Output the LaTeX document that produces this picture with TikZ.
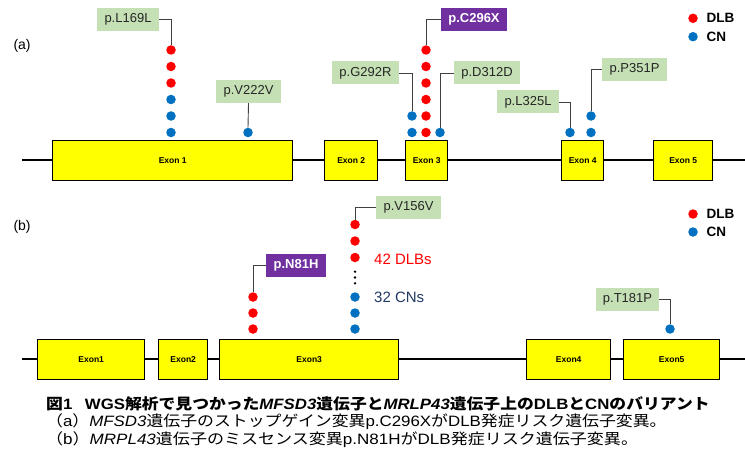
\documentclass[tikz,border=0pt]{standalone}
\usepackage{graphicx}
\usepackage{fontspec}
\setmainfont{Liberation Sans}
\newfontfamily\jp{Noto Sans CJK JP}
\definecolor{dlbred}{RGB}{255,0,0}
\definecolor{cnblue}{RGB}{0,112,192}
\definecolor{labgreen}{RGB}{197,224,180}
\definecolor{purp}{RGB}{112,48,160}
\definecolor{exonyellow}{RGB}{255,255,0}
\definecolor{cndark}{RGB}{32,56,100}
\begin{document}
\begin{tikzpicture}[x=1pt,y=-1pt,
  exon/.style={draw=black, line width=1.4pt, fill=exonyellow, anchor=north west, minimum height=40pt, inner sep=0pt, font=\bfseries\fontsize{8.5}{10}\selectfont},
  backbone/.style={line width=2.2pt, black},
  dotr/.style={circle, fill=dlbred, inner sep=0pt, minimum size=9.5pt},
  dotb/.style={circle, fill=cnblue, inner sep=0pt, minimum size=9.5pt},
  edot/.style={circle, fill=black, inner sep=0pt, minimum size=2.6pt},
  lab/.style={fill=labgreen, inner sep=0pt, minimum height=23pt, font=\fontsize{13}{15}\selectfont, text=black!85},
  plab/.style={fill=purp, text=white, inner sep=0pt, minimum height=23pt, font=\bfseries\fontsize{13}{15}\selectfont},
  conn/.style={draw=black!75, line width=0.9pt},
  panel/.style={anchor=west, font=\fontsize{14}{16}\selectfont},
  legtxt/.style={anchor=west, font=\bfseries\fontsize{13.5}{16}\selectfont},
  captxt/.style={anchor=west, inner sep=0pt, font=\fontsize{15}{17}\selectfont}
]
\useasboundingbox (0,0) rectangle (745,452);

% ---------------- panel (a) ----------------
\node[panel] (pa) at (10,46) {(a)};
\coordinate (aL) at (22,160);
\coordinate (aR) at (745,160);
\draw[backbone] (aL) -- (aR);
\node[exon, minimum width=240pt] (ae1) at (52,140) {Exon 1};
\node[exon, minimum width=53pt] (ae2) at (324,140) {Exon 2};
\node[exon, minimum width=42pt] (ae3) at (405,140) {Exon 3};
\node[exon, minimum width=42pt] (ae4) at (561,140) {Exon 4};
\node[exon, minimum width=59pt] (ae5) at (653,140) {Exon 5};

% L169L column
\node[dotr] (l1) at (171,50) {};
\node[dotr] (l2) at (171,66.5) {};
\node[dotr] (l3) at (171,83) {};
\node[dotb] (l4) at (171,99.5) {};
\node[dotb] (l5) at (171,116) {};
\node[dotb] (l6) at (171,132.5) {};
\node[lab, minimum width=62pt] (tl169) at (128,19.5) {p.L169L};
\draw[conn] (tl169.east) -| (l1.north);

% V222V
\node[dotb] (v1) at (248,132.5) {};
\node[lab, minimum width=65pt] (tv222) at (248.5,91.5) {p.V222V};
\draw[conn] (tv222.south) -- (v1.north);

% G292R
\node[dotb] (g1) at (412,116) {};
\node[dotb] (g2) at (412,132.5) {};
\node[lab, minimum width=67pt] (tg292) at (365.5,73) {p.G292R};
\draw[conn] (tg292.east) -| (g1.north);

% C296X
\node[dotr] (c1) at (426,50) {};
\node[dotr] (c2) at (426,66.5) {};
\node[dotr] (c3) at (426,83) {};
\node[dotr] (c4) at (426,99.5) {};
\node[dotr] (c5) at (426,116) {};
\node[dotr] (c6) at (426,132.5) {};
\node[plab, minimum width=66pt] (tc296) at (474,19.5) {p.C296X};
\draw[conn] (tc296.west) -| (c1.north);

% D312D
\node[dotb] (d1) at (440,132.5) {};
\node[lab, minimum width=66pt] (td312) at (487,73) {p.D312D};
\draw[conn] (td312.west) -| (d1.north);

% L325L
\node[dotb] (m1) at (570,132.5) {};
\node[lab, minimum width=62pt] (tl325) at (528,102) {p.L325L};
\draw[conn] (tl325.east) -| (m1.north);

% P351P
\node[dotb] (p1) at (591,116) {};
\node[dotb] (p2) at (591,132.5) {};
\node[lab, minimum width=65pt] (tp351) at (634.5,69.5) {p.P351P};
\draw[conn] (tp351.west) -| (p1.north);

% legend (a)
\node[dotr] (lar) at (693,18.3) {};
\node[dotb] (lab2) at (693,36.7) {};
\node[legtxt] (lart) at (703,18.3) {DLB};
\node[legtxt] (labt) at (703,36.7) {CN};

% ---------------- panel (b) ----------------
\node[panel] (pb) at (10,227) {(b)};
\coordinate (bL) at (22,359);
\coordinate (bR) at (745,359);
\draw[backbone] (bL) -- (bR);
\node[exon, minimum width=107pt] (be1) at (37,339) {Exon1};
\node[exon, minimum width=49pt] (be2) at (158,339) {Exon2};
\node[exon, minimum width=179pt] (be3) at (219,339) {Exon3};
\node[exon, minimum width=84pt] (be4) at (526,339) {Exon4};
\node[exon, minimum width=96pt] (be5) at (623,339) {Exon5};

% N81H
\node[dotr] (n1) at (253,297) {};
\node[dotr] (n2) at (253,313) {};
\node[dotr] (n3) at (253,329) {};
\node[plab, minimum width=60pt] (tn81) at (296,265.5) {p.N81H};
\draw[conn] (tn81.west) -| (n1.north);

% V156V
\node[dotr] (w1) at (355,224.5) {};
\node[dotr] (w2) at (355,241) {};
\node[dotr] (w3) at (355,257.5) {};
\node[edot] (e1) at (355,271.7) {};
\node[edot] (e2) at (355,277.5) {};
\node[edot] (e3) at (355,283.3) {};
\node[dotb] (w4) at (355,297) {};
\node[dotb] (w5) at (355,313) {};
\node[dotb] (w6) at (355,329) {};
\node[lab, minimum width=65pt] (tv156) at (408.5,207.5) {p.V156V};
\draw[conn] (tv156.west) -| (w1.north);
\node[anchor=west, inner sep=0pt, text=dlbred, font=\fontsize{15}{17}\selectfont] (n42) at (374,259) {42 DLBs};
\node[anchor=west, inner sep=0pt, text=cndark, font=\fontsize{15}{17}\selectfont] (n32) at (374,297) {32 CNs};

% T181P
\node[dotb] (t1) at (670,329) {};
\node[lab, minimum width=63pt] (tt181) at (627.5,299.5) {p.T181P};
\draw[conn] (tt181.east) -| (t1.north);

% legend (b)
\node[dotr] (lbr) at (693,214) {};
\node[dotb] (lbb) at (693,232) {};
\node[legtxt] (lbrt) at (703,214) {DLB};
\node[legtxt] (lbbt) at (703,232) {CN};

% ---------------- caption ----------------
\node[captxt, font=\bfseries\fontsize{15}{17}\selectfont] (cap1) at (46,404) {\scalebox{1.12}[1]{{\jp\bfseries 図}1\hspace{0.75em}WGS{\jp\bfseries 解析で見つかった}\textit{MFSD3}{\jp\bfseries 遺伝子と}\textit{MRLP43}{\jp\bfseries 遺伝子上の}DLB{\jp\bfseries と}CN{\jp\bfseries のバリアント}}};
\node[captxt] (cap2) at (46,422) {\scalebox{1.125}[1]{{\jp （}a{\jp ）}\textit{MFSD3}{\jp 遺伝子のストップゲイン変異}p.C296X{\jp が}DLB{\jp 発症リスク遺伝子変異。}}};
\node[captxt] (cap3) at (46,440) {\scalebox{1.135}[1]{{\jp （}b{\jp ）}\textit{MRPL43}{\jp 遺伝子のミスセンス変異}p.N81H{\jp が}DLB{\jp 発症リスク遺伝子変異。}}};
\end{tikzpicture}
\end{document}
